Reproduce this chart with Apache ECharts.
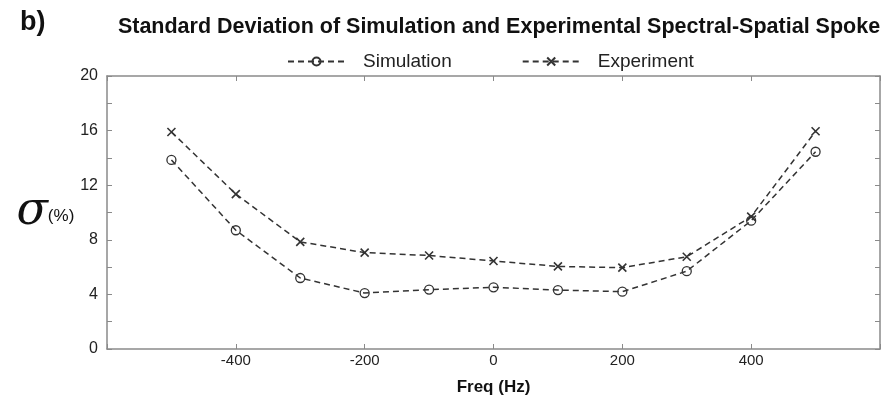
<!DOCTYPE html>
<html>
<head>
<meta charset="utf-8">
<script src="https://cdn.jsdelivr.net/npm/echarts@6/dist/echarts.min.js"></script>
<style>
  html, body { margin: 0; padding: 0; background: #fff; }
  #chart { width: 887px; height: 404px; }
</style>
</head>
<body>
<div id="chart"></div>
<script>
// 频率 (Hz)
var freq = [-500, -400, -300, -200, -100, 0, 100, 200, 300, 400, 500];
var simulation = [13.85, 8.7, 5.2, 4.1, 4.35, 4.52, 4.32, 4.2, 5.7, 9.4, 14.45];
var experiment = [15.9, 11.35, 7.85, 7.06, 6.85, 6.45, 6.05, 5.96, 6.76, 9.7, 15.95];
var yTickLabels = [0, 4, 8, 12, 16, 20];
var xTickLabels = [-400, -200, 0, 200, 400];

function pairs(xs, ys) {
  var out = [];
  for (var i = 0; i < xs.length; i++) out.push([xs[i], ys[i]]);
  return out;
}

var myChart = echarts.init(document.getElementById("chart"));
var axisGray = "#8a8a8a";
var lineColor = "#333";

var option = {
  animation: false,
  title: [
    {
      text: "b)",
      left: 15,
      top: 4,
      textStyle: { fontFamily: "Liberation Sans", fontSize: 27, fontWeight: "bold", color: "#111" },
    },
    {
      text: "Standard Deviation of Simulation and Experimental Spectral-Spatial Spoke",
      left: 494,
      textAlign: "center",
      top: 11,
      textStyle: { fontFamily: "Liberation Sans", fontSize: 21.5, fontWeight: "bold", color: "#111" },
    },
  ],
  legend: {
    top: 47,
    left: 282,
    itemWidth: 57,
    itemHeight: 10,
    itemGap: 70,
    textStyle: { fontFamily: "Liberation Sans", fontSize: 19, color: "#222", padding: [0, 0, 0, 13] },
    data: ["Simulation", "Experiment"],
  },
  grid: { left: 107, right: 7, top: 76, bottom: 55 },
  xAxis: [
    {
      type: "value",
      min: -600,
      max: 600,
      interval: 200,
      name: "Freq (Hz)",
      nameLocation: "middle",
      nameGap: 30,
      nameTextStyle: { fontFamily: "Liberation Sans", fontSize: 17, fontWeight: "bold", color: "#111" },
      axisLine: { onZero: false, lineStyle: { color: axisGray, width: 1.5 } },
      axisTick: { inside: true, length: 5, lineStyle: { color: axisGray } },
      splitLine: { show: false },
      axisLabel: {
        margin: 4,
        fontFamily: "Liberation Sans",
        fontSize: 15,
        color: "#222",
        formatter: function (v) {
          return xTickLabels.indexOf(v) >= 0 ? String(v) : "";
        },
      },
    },
    {
      type: "value",
      position: "top",
      min: -600,
      max: 600,
      interval: 200,
      axisLine: { show: true, onZero: false, lineStyle: { color: axisGray, width: 1.5 } },
      axisTick: { show: true, inside: true, length: 5, lineStyle: { color: axisGray } },
      axisLabel: { show: false },
      splitLine: { show: false },
    },
  ],
  yAxis: [
    {
      type: "value",
      min: 0,
      max: 20,
      interval: 2,
      name: "{s|σ}{p|(%)}",
      nameLocation: "middle",
      nameRotate: 0,
      nameGap: 17,
      nameTextStyle: {
        rich: {
          s: { fontFamily: "DejaVu Serif", fontStyle: "italic", fontSize: 46, color: "#111" },
          p: { fontFamily: "Liberation Sans", fontSize: 17, color: "#111", padding: [8, 0, 0, 0] },
        },
      },
      axisLine: { show: true, onZero: false, lineStyle: { color: axisGray, width: 1.5 } },
      axisTick: { inside: true, length: 5, lineStyle: { color: axisGray } },
      splitLine: { show: false },
      axisLabel: {
        margin: 9,
        fontFamily: "Liberation Sans",
        fontSize: 16,
        color: "#222",
        formatter: function (v) {
          return yTickLabels.indexOf(v) >= 0 ? String(v) : "";
        },
      },
    },
    {
      type: "value",
      position: "right",
      min: 0,
      max: 20,
      interval: 2,
      axisLine: { show: true, onZero: false, lineStyle: { color: axisGray, width: 1.5 } },
      axisTick: { show: true, inside: true, length: 5, lineStyle: { color: axisGray } },
      axisLabel: { show: false },
      splitLine: { show: false },
    },
  ],
  series: [
    {
      name: "Simulation",
      type: "line",
      data: pairs(freq, simulation),
      symbol: "circle",
      symbolSize: 9,
      lineStyle: { color: lineColor, width: 1.5, type: [6, 4] },
      itemStyle: { color: "rgba(0,0,0,0)", borderColor: lineColor, borderWidth: 1.3 },
    },
    {
      name: "Experiment",
      type: "line",
      data: pairs(freq, experiment),
      symbol: "path://M0,0L10,10M10,0L0,10",
      symbolSize: 8,
      lineStyle: { color: lineColor, width: 1.5, type: [6, 4] },
      itemStyle: { color: "rgba(0,0,0,0)", borderColor: lineColor, borderWidth: 1.6 },
    },
  ],
};

myChart.setOption(option);
window.addEventListener("resize", function () {
  if (myChart) myChart.resize();
});
</script>
</body>
</html>
